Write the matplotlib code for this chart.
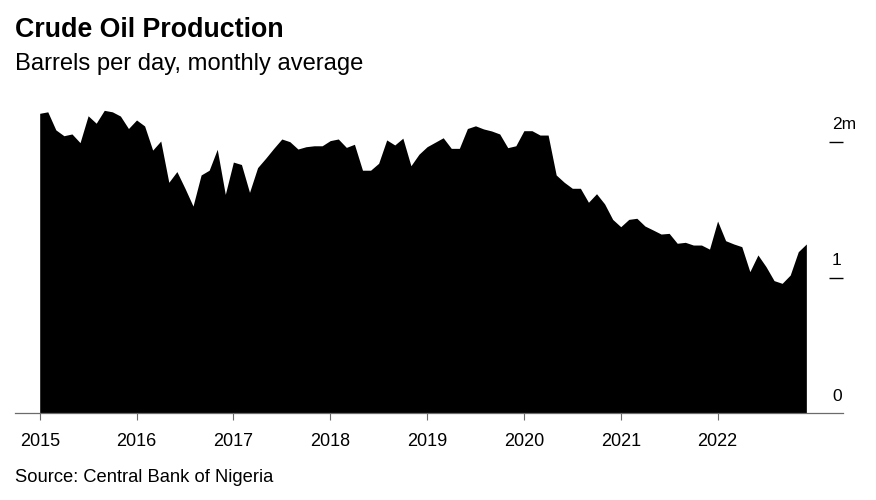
import matplotlib
matplotlib.use("Agg")
import matplotlib.pyplot as plt
import matplotlib.transforms as mtransforms
import numpy as np

plt.rcParams['font.family'] = ['Liberation Sans', 'DejaVu Sans']

# Crude oil production, million barrels per day, monthly (Jan 2015 - Dec 2022)
prod_2015 = [2.209, 2.220, 2.087, 2.044, 2.057, 1.993, 2.191, 2.136, 2.231, 2.220, 2.189, 2.097]
prod_2016 = [2.160, 2.116, 1.938, 2.005, 1.701, 1.780, 1.657, 1.526, 1.755, 1.790, 1.944, 1.612]
prod_2017 = [1.850, 1.832, 1.627, 1.809, 1.878, 1.951, 2.020, 2.000, 1.946, 1.963, 1.970, 1.970]
prod_2018 = [2.008, 2.020, 1.958, 1.981, 1.790, 1.790, 1.841, 2.013, 1.976, 2.026, 1.823, 1.908]
prod_2019 = [1.963, 1.996, 2.029, 1.951, 1.951, 2.097, 2.117, 2.094, 2.079, 2.057, 1.956, 1.970]
prod_2020 = [2.081, 2.081, 2.049, 2.049, 1.755, 1.701, 1.657, 1.657, 1.554, 1.617, 1.542, 1.428]
prod_2021 = [1.374, 1.428, 1.436, 1.379, 1.350, 1.320, 1.325, 1.252, 1.259, 1.239, 1.239, 1.209]
prod_2022 = [1.416, 1.271, 1.247, 1.227, 1.043, 1.166, 1.080, 0.977, 0.957, 1.018, 1.190, 1.247]

years = [2015, 2016, 2017, 2018, 2019, 2020, 2021, 2022]
year_labels = ["2015", "2016", "2017", "2018", "2019", "2020", "2021", "2022"]
y_ticks = [0, 1, 2]
y_tick_labels = ["0", "1", "2m"]

values = np.array(prod_2015 + prod_2016 + prod_2017 + prod_2018 +
                  prod_2019 + prod_2020 + prod_2021 + prod_2022)
months = np.arange(len(values))  # months since Jan 2015

W, H = 876, 500
fig = plt.figure(figsize=(W / 100, H / 100), dpi=100)

ax_left, ax_right = 15, 843
ax_bottom, ax_top = 413.3, 95
ax = fig.add_axes([ax_left / W, 1 - ax_bottom / H,
                   (ax_right - ax_left) / W, (ax_bottom - ax_top) / H])

ax.fill_between(months, 0, values, color="black", linewidth=0)

px_per_month = 8.07
x0_px = 39.7
ax.set_xlim((ax_left - x0_px) / px_per_month, (ax_right - x0_px) / px_per_month)
px_per_unit = 135.8
ax.set_ylim(0, (ax_bottom - ax_top) / px_per_unit)

for s in ["top", "left", "right"]:
    ax.spines[s].set_visible(False)
ax.spines["bottom"].set_color("#6b6b6b")
ax.spines["bottom"].set_linewidth(0.9)

year_pos = [(y - years[0]) * 12 for y in years]
ax.set_xticks(year_pos)
ax.set_xticklabels(year_labels, fontsize=13, color="black")
ax.tick_params(axis="x", direction="out", length=5, width=0.8,
               color="#6b6b6b", pad=9.5)

# right-hand y ticks: short marks inside, labels above the marks
ax.set_yticks([t for t in y_ticks if t > 0])
ax.yaxis.set_ticks_position("right")
ax.tick_params(axis="y", direction="in", length=10.3, width=1.0,
               color="black", labelright=False, labelleft=False, left=False)

trans = mtransforms.blended_transform_factory(fig.transFigure, ax.transData)
for t, lab in zip(y_ticks, y_tick_labels):
    ax.annotate(lab, xy=(832 / W, t), xycoords=trans,
                xytext=(0, 9), textcoords="offset points",
                ha="left", va="baseline", fontsize=12.5, color="black",
                annotation_clip=False)

fig.text(15 / W, 1 - 36.7 / H, "Crude Oil Production", fontsize=19.3,
         fontweight="bold", ha="left", va="baseline", color="black")
fig.text(15 / W, 1 - 70 / H, "Barrels per day, monthly average", fontsize=17.1,
         ha="left", va="baseline", color="black")
fig.text(15 / W, 1 - 482.3 / H, "Source: Central Bank of Nigeria", fontsize=13.2,
         ha="left", va="baseline", color="black")

fig.savefig("out.png", dpi=100)
